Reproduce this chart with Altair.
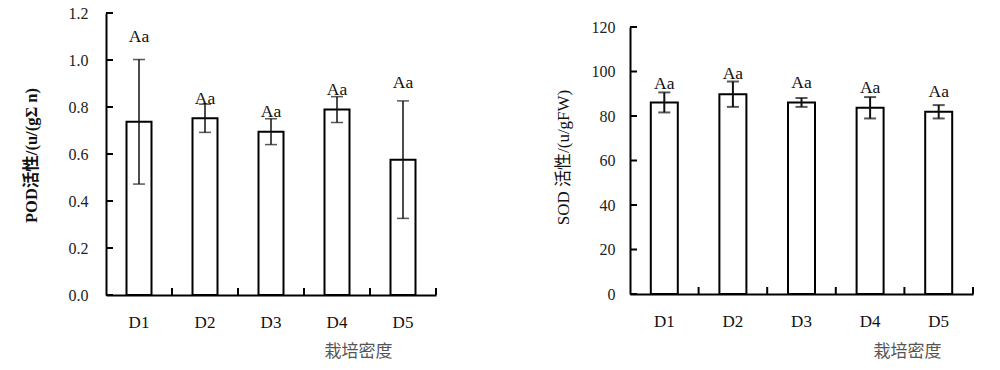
import altair as alt
import pandas as pd

cats = ["D1", "D2", "D3", "D4", "D5"]
letters = ["Aa", "Aa", "Aa", "Aa", "Aa"]

pod_mean = [0.737, 0.752, 0.695, 0.789, 0.576]
pod_err = [0.265, 0.060, 0.055, 0.055, 0.250]
pod_label_y = [1.098, 0.834, 0.780, 0.872, 0.903]
pod_ticks = [0.0, 0.2, 0.4, 0.6, 0.8, 1.0, 1.2]

sod_mean = [86.1, 89.8, 86.1, 83.7, 81.9]
sod_err = [4.5, 5.7, 2.0, 4.8, 3.0]
sod_label_y = [94.5, 99.0, 95.0, 92.7, 91.0]
sod_ticks = [0, 20, 40, 60, 80, 100, 120]

FONT = "Liberation Serif, Noto Sans CJK SC"


def panel(mean, err, label_y, ticks, ymax, fmt, ytitle, ytitle_weight,
          ytitle_size, w, h, top_gap, bar_size, err_width, ylab_pad,
          ytitle_x, ytitle_y, xtitle_x, xtitle_y):
    df = pd.DataFrame({
        "cat": cats,
        "mean": mean,
        "lo": [m - e for m, e in zip(mean, err)],
        "hi": [m + e for m, e in zip(mean, err)],
        "ly": label_y,
        "txt": letters,
    })
    tdf = pd.DataFrame({"v": ticks})
    yscale = alt.Scale(domain=[0, ymax], nice=False, zero=True,
                       range=[h, top_gap])
    xscale = alt.Scale(paddingInner=0, paddingOuter=0)
    xaxis = alt.Axis(
        labelAngle=0, ticks=False, tickSize=0, labelPadding=27,
        labelBaseline="middle", labelFont=FONT, labelFontSize=17,
        labelColor="#111", domainColor="#000", domainWidth=2,
        title="栽培密度", titleFont=FONT, titleFontSize=17,
        titleFontWeight="normal", titleColor="#555",
        titleX=xtitle_x, titleY=xtitle_y, titleBaseline="middle",
        titleAlign="center",
    )
    yaxis = alt.Axis(
        values=ticks, format=fmt, ticks=False, tickSize=0, grid=False,
        labelPadding=ylab_pad, labelFont=FONT, labelFontSize=16,
        labelColor="#222", domainColor="#000", domainWidth=2,
        title=ytitle, titleFont=FONT, titleFontSize=ytitle_size,
        titleFontWeight=ytitle_weight, titleColor="#111",
        titleX=ytitle_x, titleY=ytitle_y, titleBaseline="middle",
        titleAlign="center", titleAngle=270,
    )
    base = alt.Chart(df)
    X = alt.X("cat:N", scale=xscale, axis=xaxis)
    Xn = alt.X("cat:N", scale=xscale, title="栽培密度")

    bars = base.mark_bar(size=bar_size, fill="white", stroke="#000",
                         strokeWidth=2).encode(
        x=X, y=alt.Y("mean:Q", scale=yscale, axis=yaxis))
    stems = base.mark_rule(color="#111", strokeWidth=err_width).encode(
        x=Xn, y=alt.Y("lo:Q", scale=yscale, title=ytitle), y2="hi:Q")
    cap_hi = base.mark_tick(color="#111", size=12, thickness=err_width,
                            orient="horizontal").encode(
        x=Xn, y=alt.Y("hi:Q", scale=yscale, title=ytitle))
    cap_lo = base.mark_tick(color="#111", size=12, thickness=err_width,
                            orient="horizontal").encode(
        x=Xn, y=alt.Y("lo:Q", scale=yscale, title=ytitle))
    text = base.mark_text(font=FONT, fontSize=17.5, baseline="middle",
                          color="#111").encode(
        x=Xn, y=alt.Y("ly:Q", scale=yscale, title=ytitle), text="txt:N")
    yt = alt.Chart(tdf).mark_rule(color="#000", strokeWidth=2).encode(
        y=alt.Y("v:Q", scale=yscale, title=ytitle),
        x=alt.value(0), x2=alt.value(7))
    xt = base.mark_rule(color="#000", strokeWidth=2).encode(
        x=alt.X("cat:N", scale=xscale, title="栽培密度", bandPosition=1),
        y=alt.value(h), y2=alt.value(h - 7))
    return alt.layer(bars, stems, cap_hi, cap_lo, text, yt, xt).properties(
        width=w, height=h)


left = panel(pod_mean, pod_err, pod_label_y, pod_ticks, 1.2, ".1f",
             "POD活性/(u/(gΣ n)", "bold", 16.5, 330, 282, 0, 25, 1.5, 18,
             -75, 142, 252, 56)
right = panel(sod_mean, sod_err, sod_label_y, sod_ticks, 120, "d",
              "SOD 活性/(u/gFW)", "normal", 17, 343, 281, 14, 27, 2, 15,
              -67, 144, 277, 57)

chart = alt.hconcat(left, right, spacing=117).properties(
    padding={"left": 15, "top": -3, "right": 5, "bottom": 5}
).configure(font=FONT).configure_view(stroke=None)

chart.save("out.html", embed_options={"renderer": "svg", "actions": False})
